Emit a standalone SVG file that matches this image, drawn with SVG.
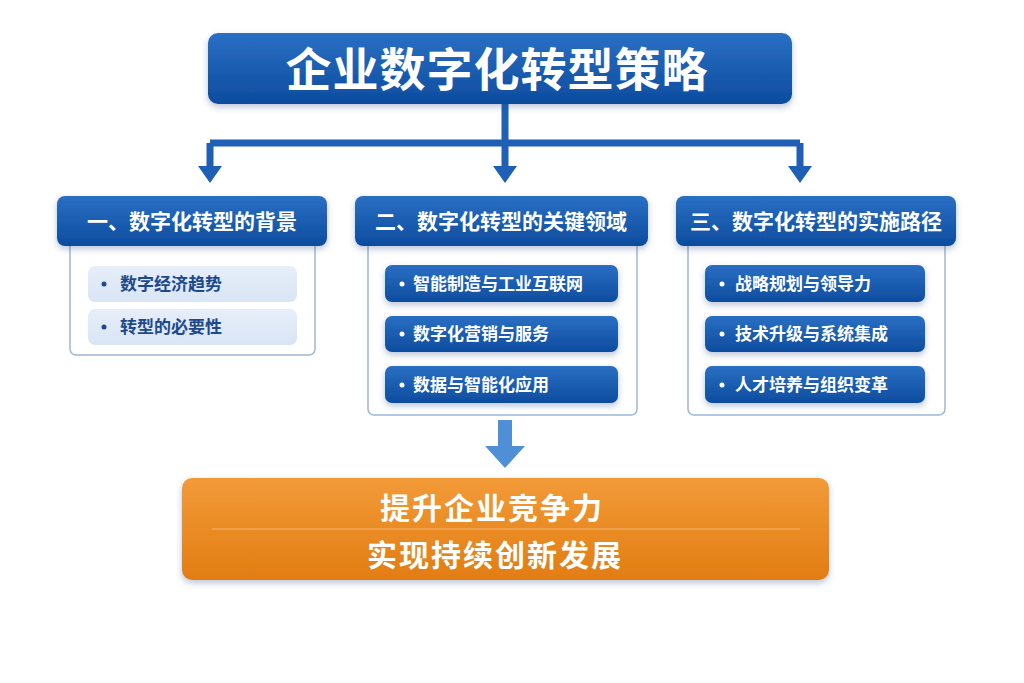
<svg xmlns="http://www.w3.org/2000/svg" width="1024" height="683" viewBox="0 0 1024 683">
<defs>
<linearGradient id="gb" x1="0" y1="0" x2="0" y2="1"><stop offset="0" stop-color="#2a6fc4"/><stop offset="1" stop-color="#0d4c9e"/></linearGradient>
<linearGradient id="go" x1="0" y1="0" x2="0" y2="1"><stop offset="0" stop-color="#f29a38"/><stop offset="1" stop-color="#e27d12"/></linearGradient>
<linearGradient id="gl" x1="0" y1="0" x2="0" y2="1"><stop offset="0" stop-color="#e6eef9"/><stop offset="1" stop-color="#d9e5f5"/></linearGradient>
<filter id="sh" x="-10%" y="-20%" width="120%" height="150%"><feDropShadow dx="0" dy="3" stdDeviation="3" flood-color="#1a3f7a" flood-opacity="0.3"/></filter>
</defs>
<style>
text{font-family:"Noto Sans CJK SC","Noto Sans",sans-serif;font-weight:bold}
.hd{fill:url(#gb);filter:url(#sh)}
.pn{fill:#fff;stroke:#9db7da;stroke-width:1.5}
.it{fill:url(#gb);filter:url(#sh)}
.li{fill:url(#gl)}
.ht{fill:#fff;font-size:21px}
.tw{fill:#fff;font-size:17px}
.td{fill:#1d4a8c;font-size:17px}
.con{stroke:#1f5fb5;fill:none}
</style>
<rect width="1024" height="683" fill="#fff"/>
<g id="connectors">
<path class="con" d="M505 104V141M210 143H800M210 143V168M505 141V168M800 143V168" stroke-width="7"/>
<path d="M198 166H222L210 183Z M493 166H517L505 183Z M788 166H812L800 183Z" fill="#1f5fb5"/>
<path d="M498 420H512V446H525L505 468L485 446H498Z" fill="#4f8fd6"/>
<path d="M368 285H385M368 334H385M368 385H385M688 283H705M688 334H705M688 385H705" stroke="#9db7da" stroke-width="1.5"/>
</g>
<g id="title"><rect x="208" y="33" width="584" height="71" rx="10" class="hd"/><text x="497" y="86" text-anchor="middle" fill="#fff" font-size="46" letter-spacing="1">企业数字化转型策略</text></g>
<g id="panel1">
<rect x="70" y="240" width="245" height="115" rx="6" class="pn"/>
<rect x="57" y="196" width="270" height="50" rx="8" class="hd"/>
<text x="192" y="229" text-anchor="middle" class="ht">一、数字化转型的背景</text>
<rect x="88" y="266" width="209" height="36" rx="7" class="li"/><circle cx="104" cy="284" r="2.5" fill="#1d4a8c"/><text x="120" y="290" class="td">数字经济趋势</text>
<rect x="88" y="309" width="209" height="36" rx="7" class="li"/><circle cx="104" cy="327" r="2.5" fill="#1d4a8c"/><text x="120" y="333" class="td">转型的必要性</text>
</g>
<g id="panel2">
<rect x="368" y="240" width="269" height="175" rx="6" class="pn"/>
<rect x="355" y="196" width="293" height="50" rx="8" class="hd"/>
<text x="501" y="229" text-anchor="middle" class="ht">二、数字化转型的关键领域</text>
<rect x="385" y="265" width="233" height="37" rx="7" class="it"/><circle cx="402" cy="284" r="2.5" fill="#fff"/><text x="413" y="290" class="tw">智能制造与工业互联网</text>
<rect x="385" y="316" width="233" height="36" rx="7" class="it"/><circle cx="402" cy="334" r="2.5" fill="#fff"/><text x="413" y="340" class="tw">数字化营销与服务</text>
<rect x="385" y="366" width="233" height="37" rx="7" class="it"/><circle cx="402" cy="385" r="2.5" fill="#fff"/><text x="413" y="391" class="tw">数据与智能化应用</text>
</g>
<g id="panel3">
<rect x="688" y="240" width="257" height="175" rx="6" class="pn"/>
<rect x="676" y="196" width="280" height="50" rx="8" class="hd"/>
<text x="816" y="229" text-anchor="middle" class="ht">三、数字化转型的实施路径</text>
<rect x="705" y="265" width="220" height="37" rx="7" class="it"/><circle cx="722" cy="284" r="2.5" fill="#fff"/><text x="735" y="290" class="tw">战略规划与领导力</text>
<rect x="705" y="316" width="220" height="36" rx="7" class="it"/><circle cx="722" cy="334" r="2.5" fill="#fff"/><text x="735" y="340" class="tw">技术升级与系统集成</text>
<rect x="705" y="366" width="220" height="37" rx="7" class="it"/><circle cx="722" cy="385" r="2.5" fill="#fff"/><text x="735" y="391" class="tw">人才培养与组织变革</text>
</g>
<g id="result">
<rect x="182" y="478" width="647" height="102" rx="10" fill="url(#go)" filter="url(#sh)"/>
<line x1="212" y1="529" x2="800" y2="529" stroke="#f6b56e" stroke-width="1"/>
<text x="492" y="519" text-anchor="middle" fill="#fff" font-size="30" letter-spacing="2">提升企业竞争力</text>
<text x="495" y="566" text-anchor="middle" fill="#fff" font-size="30" letter-spacing="2">实现持续创新发展</text>
</g>
</svg>
